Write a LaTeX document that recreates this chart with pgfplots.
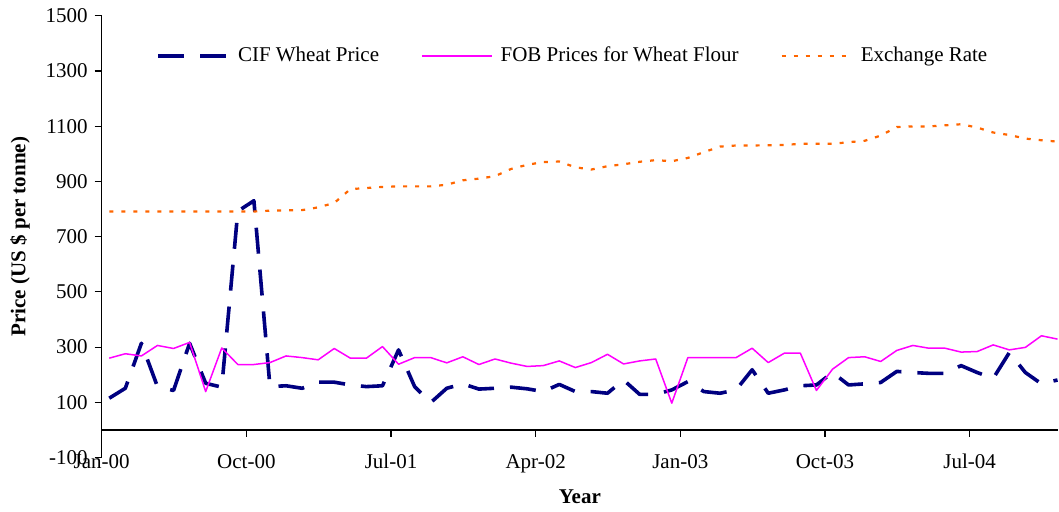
\documentclass[border=0pt]{standalone}
\usepackage{fontspec}
\setmainfont{Liberation Serif}
\usepackage{pgfplots}
\usepackage{pgfplotstable}
\pgfplotsset{compat=1.18}
\definecolor{cifblue}{HTML}{000080}
\definecolor{fobmag}{HTML}{FF00FF}
\definecolor{exor}{HTML}{FF6600}

\pgfplotstableread{
m cif fob ex
0 115 260 791
1 151 276 791
2 314 268 791
3 157 306 791
4 143 295 791
5 314 317 791
6 169 139 791
7 155 297 791
8 792 237 791
9 830 237 791
10 157 244 794
11 160 268 795
12 151 262 796
13 173 254 806
14 173 295 822
15 163 260 872
16 157 260 876
17 160 302 880
18 290 238 882
19 157 262 882
20 99 262 882
21 151 243 888
22 167 265 904
23 148 237 910
24 151 257 919
25 155 242 945
26 149 230 960
27 139 233 970
28 165 250 972
29 139 226 951
30 139 244 943
31 133 274 955
32 181 239 962
33 129 250 971
34 129 257 977
35 145 97 973
36 175 262 985
37 139 262 1006
38 133 262 1026
39 145 262 1030
40 218 296 1030
41 133 244 1031
42 145 278 1032
43 160 278 1036
44 163 143 1036
45 208 220 1036
46 163 262 1042
47 167 265 1047
48 172 248 1066
49 212 288 1097
50 208 306 1099
51 205 296 1099
52 205 296 1103
53 233 282 1107
54 208 284 1095
55 187 308 1077
56 280 290 1068
57 208 299 1055
58 167 341 1049
59 181 329 1044
}\data

\begin{document}
\begin{tikzpicture}
\begin{axis}[
  scale only axis, width=478.15pt, height=220.95pt,
  xmin=0, xmax=59.5, ymin=-100, ymax=1500,
  axis x line=middle, axis y line=left,
  axis line style={-, black, line width=0.6pt},
  hide obscured x ticks=false, hide obscured y ticks=false,
  tick align=outside, major tick length=3.5pt,
  tick style={black, line width=0.6pt},
  xtick={0,9,18,27,36,45,54},
  xticklabels={Jan-00,Oct-00,Jul-01,Apr-02,Jan-03,Oct-03,Jul-04},
  ytick={-100,100,300,500,700,900,1100,1300,1500},
  /pgf/number format/assume math mode=true,
  /pgf/number format/1000 sep={},
  tick label style={font=\fontsize{10.5}{12}\selectfont},
  xticklabel style={anchor=north, yshift=-5pt},
  xlabel={Year}, ylabel={Price (US \$ per tonne)},
  label style={font=\fontsize{10.5}{12}\selectfont\bfseries},
  xlabel style={at={(axis description cs:0.5,0)}, anchor=center, yshift=-19.4pt},
  ylabel style={at={(axis description cs:0,0.5)}, anchor=center, yshift=40.9pt},
  legend columns=3,
  legend style={at={(axis description cs:0.0568,0.909)}, anchor=west,
    draw=none, fill=none, inner sep=0pt,
    font=\fontsize{10.5}{12}\selectfont,
    /tikz/every even column/.append style={column sep=19pt}},
  legend image code/.code={\draw[#1] (0pt,0pt) -- (35pt,0pt); \path (37pt,0pt);},
]
\addplot[cifblue, line width=1.8pt, dash pattern=on 13pt off 8pt, line join=round]
  table[x expr=\thisrow{m}+0.47, y=cif]{\data};
\addlegendentry{CIF Wheat Price}
\addplot[fobmag, line width=0.75pt, line join=round]
  table[x expr=\thisrow{m}+0.47, y=fob]{\data};
\addlegendentry{FOB Prices for Wheat Flour}
\addplot[exor, line width=1.1pt, dash pattern=on 2pt off 4pt]
  table[x expr=\thisrow{m}+0.47, y=ex]{\data};
\addlegendentry{Exchange Rate}
\coordinate (BL) at (rel axis cs:0,0);
\coordinate (TR) at (rel axis cs:1,1);
\end{axis}
\pgfresetboundingbox
\path[use as bounding box] ([shift={(-50.85pt,-27.2pt)}]BL) rectangle ([shift={(0.5pt,7.85pt)}]TR);
\end{tikzpicture}
\end{document}
